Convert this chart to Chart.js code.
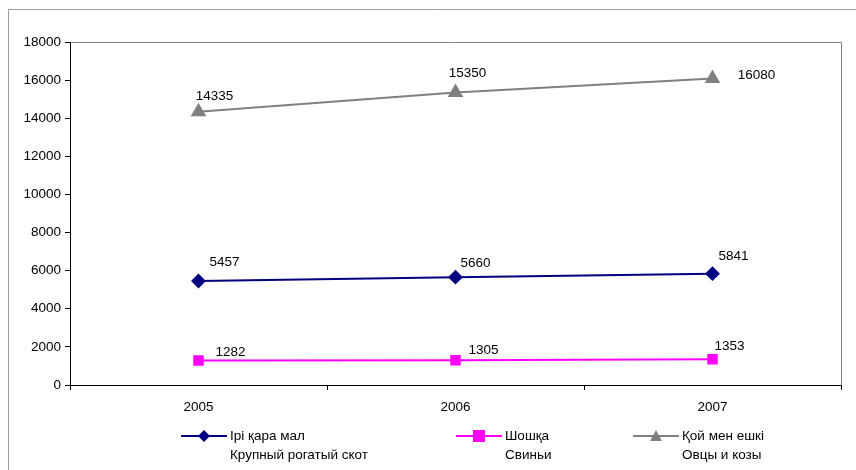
<!DOCTYPE html>
<html>
<head>
<meta charset="utf-8">
<script src="https://cdn.jsdelivr.net/npm/chart.js@4.4.1/dist/chart.umd.min.js"></script>
<style>
  html, body { margin: 0; padding: 0; background: #fff; }
  #wrap { width: 856px; height: 470px; }
</style>
</head>
<body>
<div id="wrap"><canvas id="myChart" width="856" height="470"></canvas></div>
<script>
// data
var years = ["2005", "2006", "2007"];
var cattle = [5457, 5660, 5841];
var pigs = [1282, 1305, 1353];
var sheep = [14335, 15350, 16080];
var yTicks = [0, 2000, 4000, 6000, 8000, 10000, 12000, 14000, 16000, 18000];

var names = [
    ["Ірі қара мал", "Крупный рогатый скот"],
    ["Шошқа", "Свиньи"],
    ["Қой мен ешкі", "Овцы и козы"]
];

// label offsets from each point (px)
var labelDx = [[26, 20, 21], [32, 28, 17], [16, 12, 44]];
var labelDy = [[-19, -14, -17], [-8, -10, -13], [-16, -19, -3]];

var fontFam = "'Liberation Sans', Arial, sans-serif";
var font = "13.5px " + fontFam;

// outer frame + value labels + legend
var extras = {
    id: "extras",
    beforeDraw: function (chart) {
        var ctx = chart.ctx;
        var a = chart.chartArea;
        ctx.save();
        ctx.strokeStyle = "#a0a0a0";
        ctx.lineWidth = 1;
        ctx.beginPath();
        ctx.moveTo(8.5, 470);
        ctx.lineTo(8.5, 9.5);
        ctx.lineTo(856, 9.5);
        ctx.stroke();
        // plot area top + right
        ctx.strokeStyle = "#808080";
        ctx.beginPath();
        ctx.moveTo(a.left, Math.round(a.top) + 0.5);
        ctx.lineTo(Math.round(a.right) + 0.5, Math.round(a.top) + 0.5);
        ctx.lineTo(Math.round(a.right) + 0.5, a.bottom);
        ctx.stroke();
        ctx.restore();
    },
    afterDraw: function (chart) {
        var ctx = chart.ctx;
        ctx.save();
        ctx.font = font;
        ctx.fillStyle = "#000";
        ctx.textAlign = "center";
        ctx.textBaseline = "middle";
        chart.data.datasets.forEach(function (ds, i) {
            var meta = chart.getDatasetMeta(i);
            meta.data.forEach(function (pt, j) {
                ctx.fillText(String(ds.data[j]), pt.x + labelDx[i][j], pt.y + labelDy[i][j]);
            });
        });

        // legend
        var lx = [181, 456, 633];
        var ly = 436;
        ctx.textAlign = "left";
        chart.data.datasets.forEach(function (ds, i) {
            var x = lx[i];
            ctx.strokeStyle = ds.borderColor;
            ctx.lineWidth = 2;
            ctx.beginPath();
            ctx.moveTo(x, ly);
            ctx.lineTo(x + 46, ly);
            ctx.stroke();
            ctx.fillStyle = ds.pointBackgroundColor;
            var cx = x + 23;
            ctx.beginPath();
            if (ds.pointStyle === "rectRot") {
                ctx.moveTo(cx, ly - 6); ctx.lineTo(cx + 6, ly); ctx.lineTo(cx, ly + 6); ctx.lineTo(cx - 6, ly);
            } else if (ds.pointStyle === "rect") {
                ctx.rect(cx - 6, ly - 6, 12, 12);
            } else {
                ctx.moveTo(cx, ly - 6); ctx.lineTo(cx + 6, ly + 5); ctx.lineTo(cx - 6, ly + 5);
            }
            ctx.closePath();
            ctx.fill();
            ctx.fillStyle = "#000";
            ctx.fillText(names[i][0], x + 49, ly);
            ctx.fillText(names[i][1], x + 49, ly + 19);
        });
        ctx.restore();
    }
};

new Chart("myChart", {
    type: "line",
    data: {
        labels: years,
        datasets: [{
            label: names[0].join(" "),
            data: cattle,
            borderColor: "#000080",
            backgroundColor: "#000080",
            pointBackgroundColor: "#000080",
            pointBorderColor: "#000080",
            pointStyle: "rectRot",
            pointRadius: 6,
            borderWidth: 2
        }, {
            label: names[1].join(" "),
            data: pigs,
            borderColor: "#ff00ff",
            backgroundColor: "#ff00ff",
            pointBackgroundColor: "#ff00ff",
            pointBorderColor: "#ff00ff",
            pointStyle: "rect",
            pointRadius: 6,
            borderWidth: 2
        }, {
            label: names[2].join(" "),
            data: sheep,
            borderColor: "#808080",
            backgroundColor: "#808080",
            pointBackgroundColor: "#808080",
            pointBorderColor: "#808080",
            pointStyle: "triangle",
            pointRadius: 7,
            borderWidth: 2
        }]
    },
    options: {
        responsive: false,
        animation: false,
        layout: { padding: { left: 0, top: 42, right: 15, bottom: 0 } },
        plugins: {
            legend: { display: false },
            tooltip: { enabled: false }
        },
        scales: {
            x: {
                offset: true,
                grid: { display: true, drawOnChartArea: false, tickLength: 5, color: "#000", offset: true },
                border: { color: "#000", width: 1 },
                ticks: { color: "#000", font: { family: fontFam, size: 13.5 }, padding: 9 },
                afterFit: function (s) { s.height = 85; }
            },
            y: {
                min: 0,
                max: 18000,
                afterBuildTicks: function (s) { s.ticks = yTicks.map(function (v) { return { value: v }; }); },
                grid: { display: true, drawOnChartArea: false, tickLength: 5, color: "#000" },
                border: { color: "#000", width: 1 },
                ticks: {
                    color: "#000",
                    font: { family: fontFam, size: 13.5 },
                    padding: 4,
                    callback: function (v) { return String(v); }
                },
                afterFit: function (s) { s.width = 70; }
            }
        }
    },
    plugins: [extras]
});
</script>
</body>
</html>
